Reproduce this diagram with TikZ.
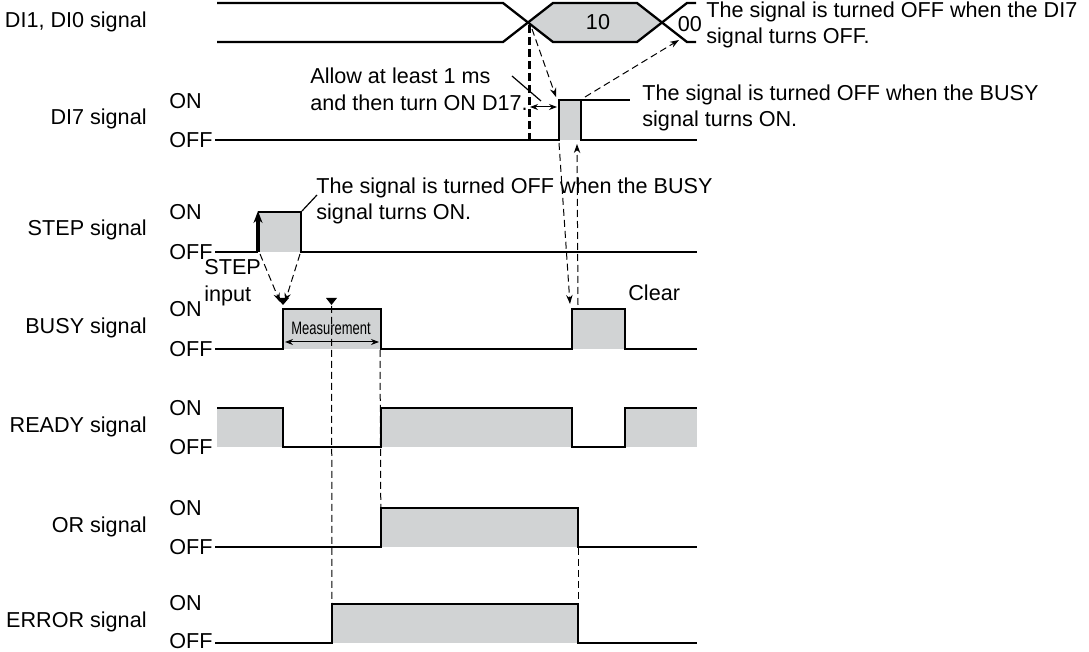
\documentclass[tikz,border=0pt]{standalone}
\usepackage{fontspec}
\setmainfont{Liberation Sans}
\usetikzlibrary{arrows.meta}
\definecolor{pulsegrey}{RGB}{209,211,212}

\begin{document}
\begin{tikzpicture}[x=0.5pt,y=-0.5pt,
  every node/.style={inner sep=0pt,font=\fontsize{10.8}{13.3}\selectfont},
  siglabel/.style={anchor=east},
  lvl/.style={anchor=west},
  note/.style={anchor=west,align=left},
  wave/.style={line width=1.15pt,line join=miter},
  hi/.style={fill=pulsegrey},
  guide/.style={line width=0.5pt,dash pattern=on 3.5pt off 2pt},
  guidearrow/.style={guide,-{Stealth[length=4.5pt,width=3.2pt]}},
  span/.style={line width=0.5pt,
               {Stealth[length=4pt,width=3pt]}-{Stealth[length=4pt,width=3pt]}},
  leader/.style={line width=0.6pt}]

  \useasboundingbox (0,0) rectangle (1089,652);

  % ===== signal names =====
  \node[siglabel] (ndi)    at (147,22)  {DI1, DI0 signal};
  \node[siglabel] (ndi7)   at (147,119) {DI7 signal};
  \node[siglabel] (nstep)  at (147,230) {STEP signal};
  \node[siglabel] (nbusy)  at (147,328) {BUSY signal};
  \node[siglabel] (nready) at (147,427) {READY signal};
  \node[siglabel] (nor)    at (147,527) {OR signal};
  \node[siglabel] (nerr)   at (147,622) {ERROR signal};

  % ===== ON / OFF levels =====
  \foreach \nm/\yon/\yoff in {di7/101/140,step/212/252,busy/309/349,
                              ready/408/447,or/508/547,err/603/641}{
    \node[lvl] (\nm on)  at (169,\yon)  {ON};
    \node[lvl] (\nm off) at (169,\yoff) {OFF};
  }

  % ===== DI1, DI0 bus =====
  \fill[hi] (528,22.5)--(553,3)--(637,3)--(662,22.5)--(637,42)--(553,42)--cycle;
  \draw[wave] (217,3)--(503,3)--(553,42)--(637,42)--(687,3)--(696,3);
  \draw[wave] (217,42)--(503,42)--(553,3)--(637,3)--(687,42)--(696,42);
  \node (v10) at (598,22) {10};
  \node (v00) at (690,24) {00};
  \coordinate (cross) at (528,22.5);

  % ===== DI7 =====
  \fill[hi] (559,100) rectangle (581,140);
  \draw[wave] (215,140)--(559,140)--(559,100)--(581,100)--(581,140)--(697,140);
  \coordinate (d7up) at (559,100);  \coordinate (d7top) at (581,100);
  \draw[line width=1.5pt,dash pattern=on 4pt off 2pt] (529,25)--(529,140);

  % ===== STEP =====
  \fill[hi] (258,212) rectangle (301,252);
  \draw[wave] (215,252)--(258,252);
  \draw[wave] (258,212)--(301,212)--(301,252)--(697,252);
  \draw[line width=1.7pt,-{Stealth[length=6pt,width=4.5pt]}] (258,252)--(258,211);

  % ===== BUSY =====
  \fill[hi] (283,309) rectangle (381,349);
  \fill[hi] (572,309) rectangle (625,349);
  \draw[wave] (215,349)--(283,349)--(283,309)--(381,309)--(381,349)
              --(572,349)--(572,309)--(625,309)--(625,349)--(697,349);
  \node (meas) at (331,328)
    {\fontsize{9}{10}\selectfont\scalebox{0.72}[1]{Measurement}};
  \draw[span] (285,342)--(379,342);
  \fill (277,298)--(289,298)--(283,305)--cycle;
  \fill (326,298)--(337,298)--(331.5,305)--cycle;

  % ===== READY =====
  \fill[hi] (217,408) rectangle (283,447);
  \fill[hi] (381,408) rectangle (572,447);
  \fill[hi] (625,408) rectangle (697,447);
  \draw[wave] (217,408)--(283,408)--(283,447)--(381,447)--(381,408)
              --(572,408)--(572,447)--(625,447)--(625,408)--(697,408);

  % ===== OR =====
  \fill[hi] (381,508) rectangle (578,547);
  \draw[wave] (215,547)--(381,547)--(381,508)--(578,508)--(578,547)--(697,547);

  % ===== ERROR =====
  \fill[hi] (332,604) rectangle (578,643);
  \draw[wave] (215,643)--(332,643)--(332,604)--(578,604)--(578,643)--(697,643);

  % ===== timing guides =====
  \draw[guidearrow] (532,29)--(556,97);
  \draw[guidearrow] (585,97)--(679,40);
  \draw[guidearrow] (559,143)--(570,304);
  \draw[guidearrow] (578,305)--(577,144);
  \draw[guidearrow] (260,254)--(280,302);
  \draw[guidearrow] (300,254)--(285,302);
  \draw[guide] (331.5,306)--(332,604);
  \draw[guide] (380,350)--(381,547);
  \draw[guide] (578,548)--(578,604);
  \draw[span] (530,107)--(557,107);

  % ===== notes =====
  \node[note] (offdi7) at (706,25)
    {The signal is turned OFF when the DI7\\signal turns OFF.};
  \node[note] (offbusy1) at (642,108)
    {The signal is turned OFF when the BUSY\\signal turns ON.};
  \node[note] (offbusy2) at (316,201)
    {The signal is turned OFF when the BUSY\\signal turns ON.};
  \node[note] (allow) at (310,89)
    {Allow at least 1 ms\\and then turn ON D17.};
  \node[note] (stepin) at (204,283) {STEP\\input};
  \node[lvl] (clear) at (628,293) {Clear};

  \draw[leader] (d7top)--(630,100);
  \draw[leader] (302,211)--(317,195);
  \draw[leader] (512,76)--(541,101);

\end{tikzpicture}
\end{document}
